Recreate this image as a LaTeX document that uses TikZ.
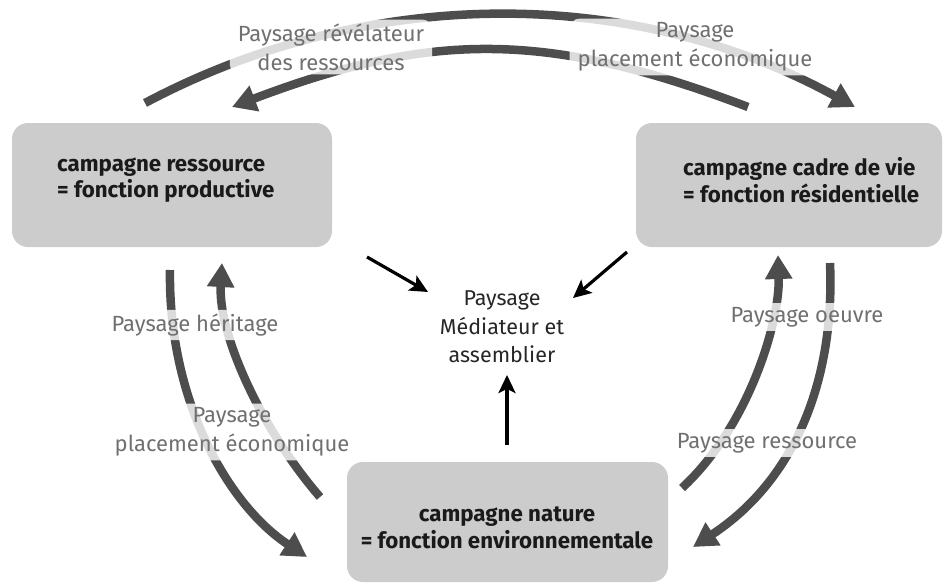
\documentclass[tikz,border=0pt]{standalone}
\usepackage{fontspec}
\setmainfont{Fira Sans}
\usetikzlibrary{arrows.meta}
\definecolor{boxgray}{HTML}{CCCCCC}
\definecolor{arrgray}{HTML}{4D4D4D}
\definecolor{labgray}{HTML}{707070}
\definecolor{txtdark}{HTML}{1A1A1A}
\begin{document}
\begin{tikzpicture}[x=1pt,y=-1pt,
  boxstyle/.style={fill=boxgray, rounded corners=16pt, draw=none, inner sep=0pt},
  boxtext/.style={font=\fontsize{22.3}{26.5}\selectfont\bfseries, text=txtdark, align=left, inner sep=0pt},
  bigarrow/.style={draw=arrgray, line width=8.5pt, -{Triangle[length=24pt,width=26pt]}},
  lab/.style={font=\fontsize{22}{29}\selectfont, text=labgray, fill=white, fill opacity=0.8, text opacity=1, rounded corners=10pt, align=center, inner xsep=8pt, inner ysep=4pt},
  blackarrow/.style={draw=black, line width=3.2pt, -{Stealth[length=18pt,width=17pt,inset=4pt]}},
  centertext/.style={font=\fontsize{21.5}{28.5}\selectfont, text=black!85, align=center}
]
\useasboundingbox (0,0) rectangle (944,584);

% boxes
\node[boxstyle, minimum width=320pt, minimum height=124pt] (boxL) at (172,185) {};
\node[boxtext, anchor=west] (txtL) at (57,180) {campagne ressource\\= fonction productive};
\node[boxstyle, minimum width=306pt, minimum height=124pt] (boxR) at (789,185) {};
\node[boxtext, anchor=west] (txtR) at (683,180) {campagne cadre de vie\\= fonction résidentielle};
\node[boxstyle, minimum width=321pt, minimum height=120pt] (boxB) at (507.5,522) {};
\node[boxtext, align=center] (txtB) at (507,528) {campagne nature\\= fonction environnementale};

% end points of the big arcs
\coordinate (tA0) at (145,103); \coordinate (tA1) at (855,107);
\coordinate (tB0) at (748,107); \coordinate (tB1) at (232,107);
\coordinate (lA0) at (170,270); \coordinate (lA1) at (307,557);
\coordinate (lB0) at (320,497); \coordinate (lB1) at (222,263);
\coordinate (rA0) at (682,488); \coordinate (rA1) at (778,255);
\coordinate (rB0) at (830,263); \coordinate (rB1) at (693,547);

\draw[bigarrow] (tA0) .. controls (367,-15) and (633,-15) .. (tA1);
\draw[bigarrow] (tB0) .. controls (548,31) and (432,31) .. (tB1);
\draw[bigarrow] (lA0) .. controls (168,400) and (228,505) .. (lA1);
\draw[bigarrow] (lB0) .. controls (262,430) and (218,335) .. (lB1);
\draw[bigarrow] (rA0) .. controls (750,425) and (780,320) .. (rA1);
\draw[bigarrow] (rB0) .. controls (835,380) and (795,480) .. (rB1);

% labels
\node[lab] (labTL) at (331,47) {Paysage révélateur\\des ressources};
\node[lab] (labTR) at (695,47) {Paysage\\placement économique};
\node[lab] (labLH) at (195,325) {Paysage héritage};
\node[lab] (labLP) at (232,432) {Paysage\\placement économique};
\node[lab] (labRO) at (807,317) {Paysage oeuvre};
\node[lab] (labRR) at (767,443) {Paysage ressource};

% centre
\node[centertext] (mid) at (502,327) {Paysage\\Médiateur et\\assemblier};
\coordinate (kA0) at (367,257); \coordinate (kA1) at (428,292);
\coordinate (kB0) at (627,252); \coordinate (kB1) at (573,298);
\coordinate (kC0) at (507,445); \coordinate (kC1) at (507,375);
\draw[blackarrow] (kA0) -- (kA1);
\draw[blackarrow] (kB0) -- (kB1);
\draw[blackarrow] (kC0) -- (kC1);
\end{tikzpicture}
\end{document}
